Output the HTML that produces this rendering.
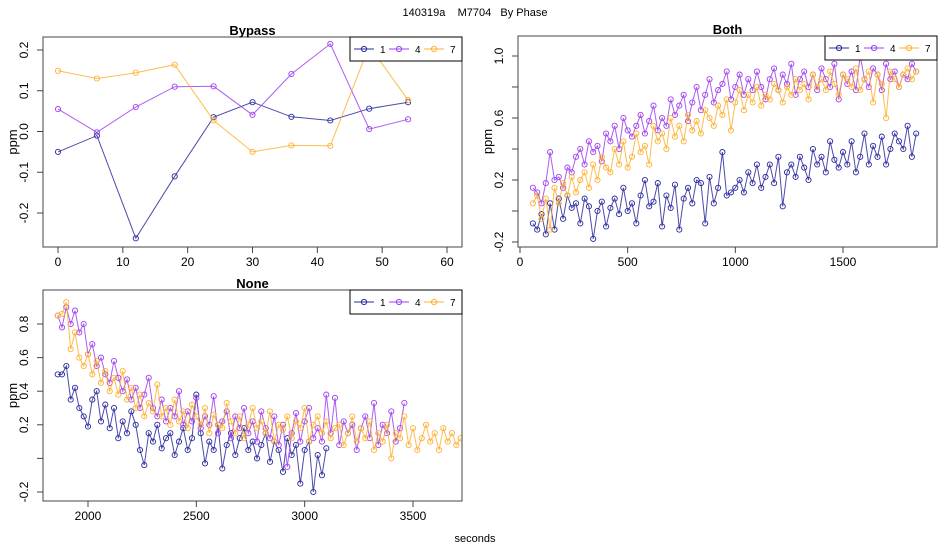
<!DOCTYPE html>
<html><head><meta charset="utf-8"><style>
body{margin:0;background:#fff;}
svg{display:block;font-family:"Liberation Sans",sans-serif;}
</style></head><body>
<svg id="c" width="950" height="550" viewBox="0 0 950 550">
<rect width="950" height="550" fill="#fff"/>
<text x="475" y="16" text-anchor="middle" font-size="11" style="white-space:pre" xml:space="preserve">140319a    M7704   By Phase</text>
<text x="475" y="542" text-anchor="middle" font-size="11">seconds</text>
</svg>
<script>
const seriesNames = ["1","4","7"];
const seriesColors = ["#2a2a9e","#a040f0","#ffb030"];
// Bypass
const bypassX = [0,6,12,18,24,30,36,42,48,54];
const bypass1 = [-0.05,-0.01,-0.262,-0.11,0.035,0.072,0.036,0.027,0.056,0.072];
const bypass4 = [0.055,-0.002,0.06,0.11,0.111,0.041,0.141,0.215,0.006,0.03];
const bypass7 = [0.149,0.13,0.144,0.164,0.027,-0.05,-0.034,-0.035,0.21,0.077];
const bypassXTicks = [0,10,20,30,40,50,60];
const bypassYTicks = [-0.2,-0.1,0.0,0.1,0.2];
const bypassYLabels = ["-0.2","-0.1","0.0","0.1","0.2"];
// Both (start time, step in seconds)
const bothStart = [60,60,60];
const bothStep = [20,20,20];
const both1 = [-0.08,-0.12,-0.02,-0.15,0.05,-0.12,0.08,-0.05,0.1,0.02,0.05,-0.08,0.08,0.03,-0.18,0.0,0.06,-0.1,0.02,0.08,-0.02,0.15,0.0,0.05,-0.08,0.1,0.2,0.03,0.06,0.18,-0.1,0.1,0.02,0.17,-0.12,0.08,0.15,0.05,0.2,0.18,-0.08,0.22,0.05,0.15,0.38,0.1,0.12,0.15,0.2,0.12,0.25,0.18,0.3,0.15,0.22,0.3,0.18,0.35,0.03,0.25,0.3,0.22,0.35,0.28,0.2,0.4,0.3,0.35,0.25,0.45,0.33,0.28,0.38,0.3,0.45,0.25,0.35,0.5,0.3,0.42,0.35,0.48,0.3,0.4,0.5,0.45,0.4,0.55,0.35,0.5];
const both4 = [0.15,0.12,0.05,0.18,0.38,0.2,0.22,0.15,0.28,0.25,0.35,0.4,0.3,0.45,0.38,0.42,0.32,0.5,0.45,0.55,0.4,0.6,0.52,0.48,0.55,0.62,0.5,0.58,0.68,0.52,0.6,0.55,0.72,0.62,0.68,0.75,0.58,0.7,0.8,0.65,0.75,0.85,0.7,0.78,0.82,0.9,0.72,0.8,0.88,0.75,0.85,0.78,0.9,0.8,0.72,0.85,0.92,0.78,0.88,0.82,0.95,0.75,0.85,0.9,0.8,0.88,0.78,0.92,0.85,0.8,0.95,0.72,0.88,0.82,0.9,0.78,1.0,0.85,0.8,0.92,0.88,0.78,0.95,0.85,0.9,0.8,0.88,0.85,0.95,0.9];
const both7 = [0.05,0.1,-0.05,0.08,-0.12,0.15,0.05,0.18,0.1,0.22,0.12,0.2,0.25,0.15,0.3,0.2,0.35,0.28,0.25,0.4,0.3,0.45,0.28,0.35,0.5,0.38,0.42,0.3,0.55,0.45,0.5,0.4,0.6,0.48,0.55,0.45,0.62,0.52,0.58,0.5,0.65,0.6,0.55,0.68,0.62,0.72,0.52,0.7,0.78,0.65,0.75,0.7,0.8,0.68,0.75,0.72,0.82,0.78,0.7,0.8,0.75,0.85,0.78,0.82,0.72,0.88,0.8,0.85,0.78,0.9,0.82,0.75,0.88,0.85,0.8,0.92,0.78,0.85,0.9,0.7,0.88,0.82,0.6,0.9,0.85,0.8,0.88,0.92,0.85,0.9];
const bothXTicks = [0,500,1000,1500];
const bothYTicks = [-0.2,0.0,0.2,0.4,0.6,0.8,1.0];
const bothYLabels = ["-0.2","","0.2","","0.6","","1.0"];
// None
const noneStart = [1860,1860,1860];
const noneStep = [20,20,20];
const none1 = [0.5,0.5,0.55,0.35,0.42,0.3,0.25,0.19,0.35,0.4,0.22,0.32,0.18,0.3,0.12,0.22,0.15,0.28,0.2,0.05,-0.04,0.15,0.1,0.2,0.06,0.12,0.15,0.02,0.1,0.18,0.05,0.12,0.38,0.15,-0.03,0.1,0.05,0.2,-0.06,0.08,0.15,0.02,0.12,0.18,0.05,0.1,0.0,0.08,0.15,-0.02,0.1,0.05,-0.08,0.12,0.02,0.08,-0.15,0.05,0.1,-0.2,0.02,-0.1,0.06];
const none4 = [0.85,0.78,0.9,0.8,0.88,0.75,0.8,0.62,0.68,0.55,0.6,0.5,0.45,0.58,0.48,0.4,0.47,0.35,0.42,0.3,0.38,0.48,0.3,0.25,0.35,0.22,0.3,0.25,0.4,0.2,0.28,0.22,0.36,0.18,0.25,0.2,0.37,0.15,0.22,0.28,0.12,0.25,0.18,0.3,0.15,0.22,0.1,0.28,0.18,0.12,0.25,0.08,0.2,-0.05,0.15,0.27,0.1,0.22,0.3,0.12,0.18,0.1,0.38,0.15,0.36,0.08,0.22,0.15,0.2,0.05,0.18,0.25,0.12,0.33,0.08,0.2,0.15,0.28,0.1,0.18,0.33];
const none7 = [0.85,0.86,0.93,0.65,0.75,0.6,0.55,0.62,0.5,0.58,0.45,0.52,0.4,0.48,0.38,0.52,0.35,0.42,0.3,0.38,0.25,0.33,0.28,0.44,0.25,0.3,0.2,0.35,0.22,0.28,0.18,0.32,0.25,0.2,0.3,0.15,0.26,0.2,0.18,0.33,0.22,0.15,0.25,0.12,0.2,0.3,0.18,0.22,0.15,0.28,0.1,0.2,0.17,0.25,0.12,0.22,0.18,0.3,0.1,0.2,0.25,0.15,0.22,0.12,0.18,0.2,0.08,0.15,0.25,0.1,0.18,0.12,0.22,0.05,0.15,0.1,0.2,0.0,0.15,0.12,0.25,0.08,0.18,0.05,0.12,0.2,0.1,0.15,0.05,0.18,0.1,0.15,0.08,0.12];
const noneXTicks = [2000,2500,3000,3500];
const noneYTicks = [-0.2,0.0,0.2,0.4,0.6,0.8];
const noneYLabels = ["-0.2","","0.2","0.4","0.6","0.8"];

const NS="http://www.w3.org/2000/svg";
const svg=document.getElementById('c');
function mk(tag,attrs,parent){const e=document.createElementNS(NS,tag);for(const k in attrs)e.setAttribute(k,attrs[k]);(parent||svg).appendChild(e);return e;}

function panel(p){
  const g=mk('g',{});
  
  
  const sx=v=>p.x0+(v-p.xa)*(p.x1-p.x0)/(p.xb-p.xa);
  const sy=v=>p.y0+(v-p.ya)*(p.y1-p.y0)/(p.yb-p.ya);
  const clipId='clip-'+p.name;
  const cp=mk('clipPath',{id:clipId},g);
  mk('rect',{x:p.L,y:p.T,width:p.R-p.L,height:p.B-p.T},cp);
  const plot=mk('g',{'clip-path':'url(#'+clipId+')'},g);
  p.series.forEach((s,si)=>{
    const pts=s.vals.map((v,i)=>[sx(s.xs?s.xs[i]:s.start+i*s.step),sy(v)]);
    const line=mk('polyline',{points:pts.map(q=>q[0].toFixed(1)+','+q[1].toFixed(1)).join(' '),fill:'none',stroke:seriesColors[si],'stroke-width':1,'stroke-opacity':0.85},plot);
    
    
    pts.forEach(q=>{
      const c=mk('circle',{cx:q[0].toFixed(1),cy:q[1].toFixed(1),r:2.6,fill:'none',stroke:seriesColors[si],'stroke-width':0.9},plot);
      
      
    });
  });
  const box=mk('rect',{x:p.L,y:p.T,width:p.R-p.L,height:p.B-p.T,fill:'none',stroke:'#444','stroke-width':1},g);
  
  
  const xt=p.xTicks.filter(t=>sx(t)>=p.L-1&&sx(t)<=p.R+1);
  mk('line',{x1:sx(xt[0]),x2:sx(xt[xt.length-1]),y1:p.B,y2:p.B,stroke:'#444'},g);
  xt.forEach(t=>{
    mk('line',{x1:sx(t),x2:sx(t),y1:p.B,y2:p.B+6,stroke:'#444'},g);
    const tx=mk('text',{x:sx(t),y:p.B+19,'text-anchor':'middle','font-size':12},g);
    tx.textContent=t;
    
    
  });
  mk('line',{x1:p.L,x2:p.L,y1:sy(p.yTicks[0]),y2:sy(p.yTicks[p.yTicks.length-1]),stroke:'#444'},g);
  p.yTicks.forEach((t,i)=>{
    const y=sy(t);
    mk('line',{x1:p.L-6,x2:p.L,y1:y,y2:y,stroke:'#444'},g);
    if(p.yLabels[i]){
      const tx=mk('text',{x:p.L-15,y:y,'text-anchor':'middle','font-size':12,transform:'rotate(-90 '+(p.L-15)+' '+y+')'},g);
      tx.textContent=p.yLabels[i];
      
      
    }
  });
  const yl=mk('text',{x:p.L-26,y:(p.T+p.B)/2,'text-anchor':'middle','font-size':13,transform:'rotate(-90 '+(p.L-26)+' '+((p.T+p.B)/2)+')'},g);
  yl.textContent='ppm';
  
  
  const tt=mk('text',{x:(p.L+p.R)/2,y:p.T-2,'text-anchor':'middle','font-size':13,'font-weight':'bold'},g);
  tt.textContent=p.title;
  
  
  const lg=mk('g',{},g);
  
  
  const lx=p.R-112, ly=p.T;
  mk('rect',{x:lx,y:ly,width:112,height:24,fill:'#fff',stroke:'#000','stroke-width':1},lg);
  seriesNames.forEach((n,i)=>{
    const bx=lx+4+i*35;
    const e=mk('g',{},lg);
    
    
    mk('line',{x1:bx,x2:bx+20,y1:ly+12,y2:ly+12,stroke:seriesColors[i]},e);
    mk('circle',{cx:bx+10,cy:ly+12,r:2.6,fill:'none',stroke:seriesColors[i]},e);
    const t=mk('text',{x:bx+26,y:ly+16,'font-size':10},e);
    t.textContent=n;
  });
}

panel({name:'bypass',title:'Bypass',L:43,R:462,T:37,B:247,x0:58,x1:447,xa:0,xb:60,y0:213,y1:50,ya:-0.2,yb:0.2,
  xTicks:bypassXTicks,yTicks:bypassYTicks,yLabels:bypassYLabels,
  series:[{xs:bypassX,vals:bypass1},{xs:bypassX,vals:bypass4},{xs:bypassX,vals:bypass7}]});
panel({name:'both',title:'Both',L:518,R:937,T:36,B:247,x0:520,x1:843,xa:0,xb:1500,y0:242,y1:56,ya:-0.2,yb:1.0,
  xTicks:bothXTicks,yTicks:bothYTicks,yLabels:bothYLabels,
  series:[{start:bothStart[0],step:bothStep[0],vals:both1},{start:bothStart[1],step:bothStep[1],vals:both4},{start:bothStart[2],step:bothStep[2],vals:both7}]});
panel({name:'none',title:'None',L:43,R:462,T:290,B:501,x0:88,x1:413,xa:2000,xb:3500,y0:492,y1:324,ya:-0.2,yb:0.8,
  xTicks:noneXTicks,yTicks:noneYTicks,yLabels:noneYLabels,
  series:[{start:noneStart[0],step:noneStep[0],vals:none1},{start:noneStart[1],step:noneStep[1],vals:none4},{start:noneStart[2],step:noneStep[2],vals:none7}]});
</script>
</body></html>
